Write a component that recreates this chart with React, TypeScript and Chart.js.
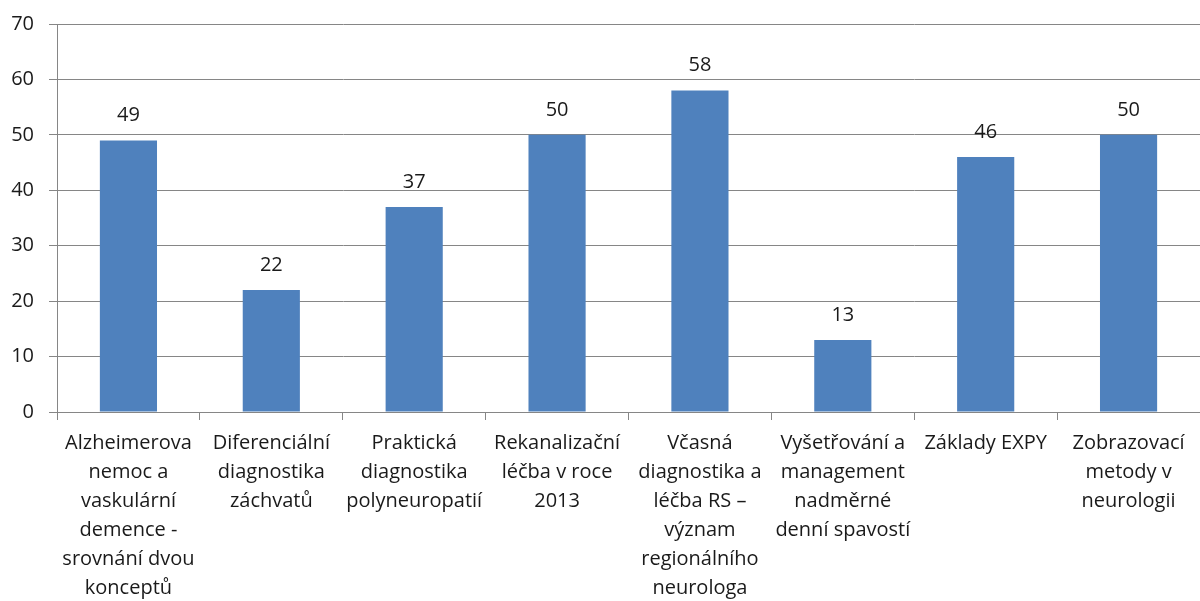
import React, { useEffect, useRef } from "react";
import { Chart, registerables } from "chart.js";

Chart.register(...registerables);

const categories: string[][] = [
  ["Alzheimerova", "nemoc a", "vaskulární", "demence -", "srovnání dvou", "konceptů"],
  ["Diferenciální", "diagnostika", "záchvatů"],
  ["Praktická", "diagnostika", "polyneuropatií"],
  ["Rekanalizační", "léčba v roce", "2013"],
  ["Včasná", "diagnostika a", "léčba RS –", "význam", "regionálního", "neurologa"],
  ["Vyšetřování a", "management", "nadměrné", "denní spavostí"],
  ["Základy EXPY"],
  ["Zobrazovací", "metody v", "neurologii"],
];
const values: number[] = [49, 22, 37, 50, 58, 13, 46, 50];
const yTicks: number[] = [0, 10, 20, 30, 40, 50, 60, 70];

const FONT = "'Open Sans', 'Noto Sans', sans-serif";
const TEXT = "#1a1a1a";
const GRID = "#868686";

const valueLabels = {
  id: "valueLabels",
  afterDatasetsDraw(chart: any) {
    const ctx = chart.ctx;
    const meta = chart.getDatasetMeta(0);
    ctx.save();
    ctx.font = `20px ${FONT}`;
    ctx.fillStyle = TEXT;
    ctx.textAlign = "center";
    ctx.textBaseline = "middle";
    meta.data.forEach((el: any, i: number) => {
      ctx.fillText(String(values[i]), el.x, el.y - 25);
    });
    ctx.restore();
  },
};

export default function App() {
  const ref = useRef<HTMLCanvasElement>(null);
  useEffect(() => {
    document.body.style.margin = "0";
    const chart = new Chart(ref.current!, {
      type: "bar",
      data: {
        labels: categories,
        datasets: [
          {
            data: values,
            backgroundColor: "#4F81BD",
            barPercentage: 0.4,
            categoryPercentage: 1,
          },
        ],
      },
      options: {
        responsive: false,
        animation: false,
        layout: { padding: { top: 24, right: 0, left: 0, bottom: 0 } },
        plugins: { legend: { display: false }, tooltip: { enabled: false } },
        scales: {
          x: {
            afterFit: (s: any) => {
              s.height = 189;
            },
            grid: {
              offset: true,
              drawOnChartArea: false,
              color: GRID,
              tickLength: 8,
            },
            border: { color: GRID },
            ticks: {
              autoSkip: false,
              maxRotation: 0,
              minRotation: 0,
              padding: 9,
              color: TEXT,
              font: { family: FONT, size: 20, lineHeight: 1.45 },
            },
          },
          y: {
            min: 0,
            max: 70,
            afterFit: (s: any) => {
              s.width = 57;
              s.paddingTop = 0;
              s.paddingBottom = 0;
            },
            afterBuildTicks: (s: any) => {
              s.ticks = yTicks.map((v) => ({ value: v }));
            },
            grid: { color: GRID, tickLength: 8 },
            border: { color: GRID },
            ticks: {
              stepSize: 10,
              padding: 15,
              color: TEXT,
              font: { family: FONT, size: 20 },
            },
          },
        },
      },
      plugins: [valueLabels],
    });
    return () => chart.destroy();
  }, []);
  return (
    <div style={{ width: 1200, height: 601 }}>
      <canvas ref={ref} width={1200} height={601} />
    </div>
  );
}
